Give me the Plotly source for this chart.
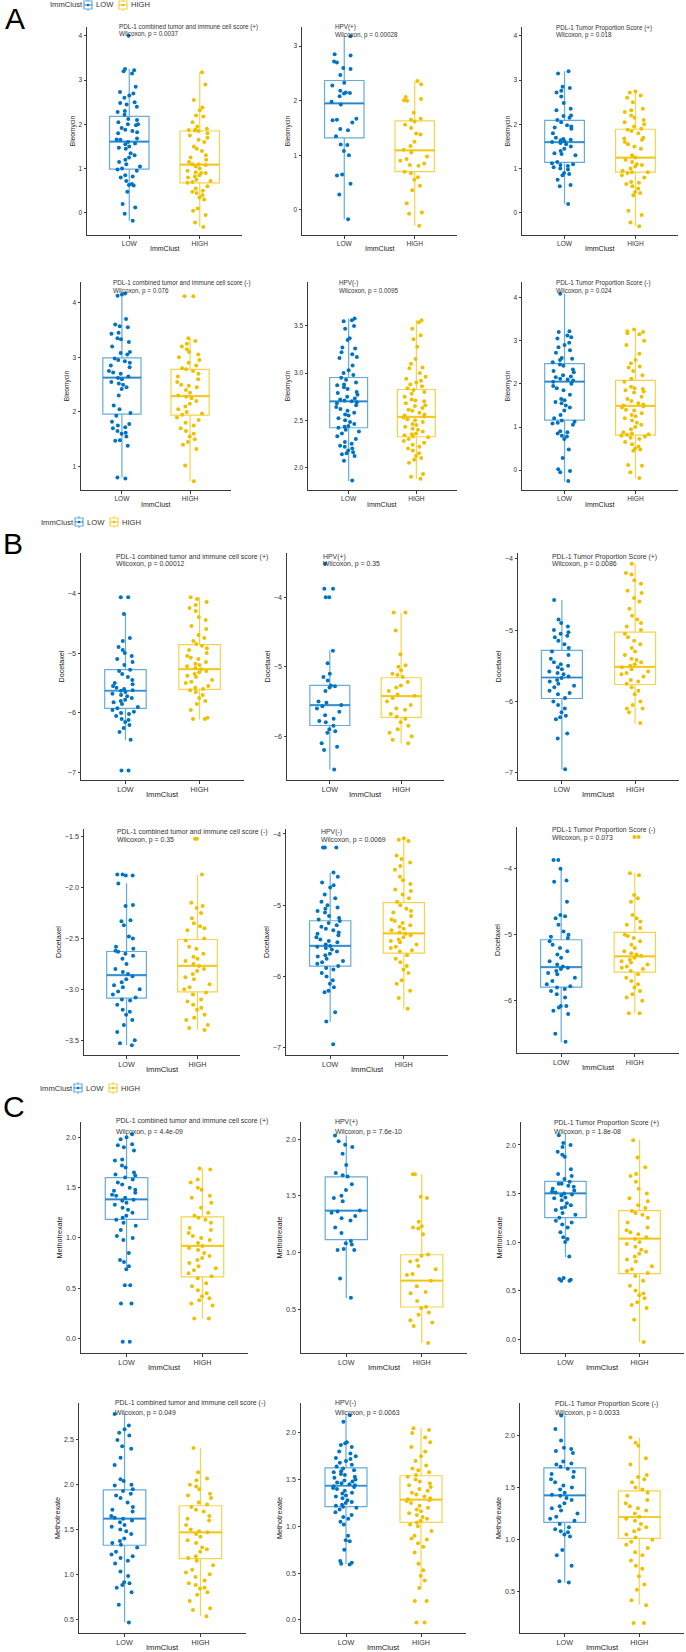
import plotly.graph_objects as go

W, H = 686, 1652
FONT = "Liberation Sans, Arial, sans-serif"
BLUE, GOLD = "#0073C2", "#EFC000"
BLUE_LINE, GOLD_LINE = "rgba(0,115,194,0.6)", "rgba(239,192,0,0.7)"

groups = ["LOW", "HIGH"]
drugs = ["Bleomycin", "Docetaxel", "Methotrexate"]
subsets = ["PDL-1 combined tumor and immune cell score (+)", "HPV(+)", "PDL-1 Tumor Proportion Score (+)",
           "PDL-1 combined tumor and immune cell score (-)", "HPV(-)", "PDL-1 Tumor Proportion Score (-)"]
p_A = ["0.0037", "0.00028", "0.018", "0.076", "0.0095", "0.024"]
p_B = ["0.00012", "0.35", "0.0086", "0.35", "0.0069", "0.073"]
p_C = ["4.4e-09", "7.6e-10", "1.8e-08", "0.049", "0.0063", "0.0033"]

# box statistics: [q1, median, q3, lower whisker, upper whisker]
A_stats_low = [[0.99, 1.61, 2.18, -0.18, 3.25], [1.32, 1.95, 2.37, -0.17, 3.18], [1.14, 1.60, 2.09, 0.195, 3.2],
               [1.96, 2.63, 2.99, 0.80, 4.17], [2.42, 2.70, 2.953, 1.855, 3.58], [1.16, 2.05, 2.47, -0.27, 4.09]]
A_stats_high = [[0.68, 1.09, 1.85, -0.32, 3.18], [0.70, 1.09, 1.63, -0.29, 2.36], [0.92, 1.25, 1.89, -0.3, 2.74],
                [1.94, 2.29, 2.78, 0.73, 3.35], [2.325, 2.536, 2.826, 1.876, 3.56], [0.81, 1.49, 2.08, -0.19, 3.28]]
B_stats_low = [[-5.924, -5.63, -5.277, -6.454, -4.335], [-5.846, -5.553, -5.27, -6.48, -4.765], [-5.958, -5.664, -5.285, -6.953, -4.58],
               [-3.087, -2.861, -2.628, -3.546, -1.956], [-5.853, -5.568, -5.217, -6.634, -4.543], [-5.793, -5.49, -5.076, -6.626, -4.0]]
B_stats_high = [[-5.606, -5.27, -4.86, -6.108, -4.067], [-5.73, -5.423, -5.159, -6.106, -4.22], [-5.762, -5.514, -5.028, -6.308, -4.065],
                [-3.025, -2.769, -2.51, -3.398, -1.874], [-5.671, -5.394, -4.964, -6.45, -4.06], [-5.566, -5.328, -4.965, -6.187, -4.066]]
C_stats_low = [[1.185, 1.384, 1.599, 0.685, 2.036], [1.112, 1.368, 1.665, 0.597, 2.03], [1.251, 1.502, 1.625, 0.845, 2.117],
               [1.324, 1.621, 1.943, 0.463, 2.793], [1.21, 1.434, 1.626, 0.594, 2.19], [1.166, 1.424, 1.688, 0.589, 2.19]]
C_stats_high = [[0.613, 0.921, 1.209, 0.199, 1.689], [0.518, 0.75, 0.979, 0.2, 1.69], [0.674, 1.034, 1.323, -0.03, 2.055],
                [1.175, 1.468, 1.765, 0.53, 2.411], [1.043, 1.285, 1.541, 0.338, 2.053], [1.013, 1.217, 1.468, 0.376, 1.98]]

# sample points (Bleomycin)
A1_low = [3.25,3.22,3.2,3.15,2.85,2.73,2.7,2.65,2.6,2.5,2.48,2.45,2.4,2.3,2.28,2.22,2.12,2.1,2.05,2.0,2.0,1.98,1.92,1.88,1.85,1.82,1.8,1.68,1.66,1.65,1.6,1.57,1.55,1.5,1.47,1.45,1.35,1.3,1.25,1.2,1.15,1.1,1.05,1.0,0.98,0.95,0.85,0.82,0.8,0.72,0.65,0.63,0.62,0.48,0.2,0.12,-0.02,-0.18,4.0]
A1_high = [3.18,2.9,2.55,2.38,2.32,2.2,2.18,2.05,1.95,1.9,1.88,1.87,1.86,1.85,1.8,1.75,1.7,1.65,1.6,1.5,1.45,1.4,1.3,1.25,1.2,1.15,1.1,1.1,1.08,1.05,1.0,0.95,0.92,0.9,0.9,0.85,0.82,0.8,0.75,0.72,0.7,0.68,0.6,0.55,0.5,0.48,0.45,0.4,0.35,0.3,0.1,0.05,-0.05,-0.22,-0.32]
A2_low = [3.18,2.85,2.83,2.72,2.7,2.6,2.58,2.47,2.33,2.28,2.18,2.15,2.14,2.13,2.08,1.98,1.93,1.67,1.65,1.64,1.6,1.48,1.46,1.35,1.2,1.19,1.08,1.0,0.65,0.63,0.48,0.28,-0.17]
A2_high = [2.36,2.3,2.07,2.03,2.01,2.0,1.78,1.67,1.65,1.62,1.56,1.5,1.4,1.38,1.25,1.17,1.1,1.05,0.98,0.93,0.9,0.85,0.82,0.81,0.7,0.67,0.6,0.55,0.44,0.36,0.12,-0.05,-0.07,-0.29]
A3_low = [3.2,3.15,2.85,2.82,2.76,2.72,2.63,2.48,2.35,2.32,2.2,2.19,2.15,2.1,2.05,1.98,1.95,1.93,1.9,1.8,1.7,1.67,1.65,1.64,1.62,1.6,1.58,1.55,1.5,1.45,1.4,1.35,1.33,1.3,1.15,1.12,1.1,1.08,1.06,1.03,1.0,0.98,0.9,0.88,0.85,0.75,0.63,0.6,0.2]
A3_high = [2.74,2.72,2.65,2.6,2.5,2.35,2.32,2.28,2.2,2.15,2.1,2.05,2.0,1.95,1.9,1.88,1.85,1.8,1.7,1.68,1.65,1.6,1.55,1.5,1.45,1.3,1.25,1.2,1.15,1.1,1.08,1.05,1.0,0.95,0.92,0.92,0.9,0.85,0.8,0.7,0.68,0.65,0.6,0.55,0.47,0.45,0.4,0.05,-0.05,-0.22,-0.3]
A4_low = [4.17,4.15,4.13,3.7,3.6,3.57,3.55,3.45,3.43,3.35,3.33,3.28,3.2,3.1,3.08,3.05,2.98,2.95,2.93,2.9,2.85,2.82,2.75,2.72,2.7,2.65,2.62,2.6,2.55,2.52,2.5,2.45,2.42,2.3,2.12,2.05,1.98,1.93,1.82,1.78,1.75,1.72,1.7,1.65,1.62,1.6,1.55,1.48,1.47,1.38,0.8,0.78]
A4_high = [4.12,4.12,3.35,3.3,3.25,3.2,3.15,3.1,3.05,3.0,2.95,2.9,2.85,2.8,2.78,2.75,2.7,2.65,2.6,2.55,2.5,2.48,2.45,2.4,2.35,2.3,2.28,2.25,2.2,2.15,2.1,2.05,2.0,1.97,1.95,1.9,1.85,1.8,1.75,1.7,1.65,1.6,1.55,1.5,1.45,1.4,1.32,1.02,0.73]
A5_low = [3.58,3.56,3.55,3.5,3.47,3.37,3.35,3.27,3.26,3.22,3.2,3.17,3.16,3.08,3.03,3.0,2.98,2.95,2.93,2.9,2.88,2.87,2.85,2.83,2.8,2.79,2.77,2.75,2.73,2.72,2.71,2.7,2.69,2.68,2.66,2.64,2.62,2.6,2.58,2.56,2.55,2.52,2.5,2.48,2.46,2.44,2.43,2.42,2.4,2.38,2.36,2.33,2.3,2.27,2.25,2.23,2.22,2.2,2.18,2.16,2.15,2.14,2.12,2.07,1.86]
A5_high = [3.56,3.54,3.47,3.4,3.36,3.28,3.15,3.1,3.06,3.05,3.0,2.96,2.94,2.92,2.9,2.88,2.86,2.84,2.82,2.8,2.78,2.75,2.72,2.71,2.7,2.68,2.66,2.65,2.63,2.61,2.6,2.58,2.56,2.55,2.54,2.53,2.51,2.5,2.48,2.46,2.45,2.43,2.41,2.4,2.38,2.36,2.35,2.34,2.33,2.32,2.3,2.28,2.26,2.24,2.22,2.2,2.18,2.15,2.12,2.1,2.08,2.05,1.93,1.9,1.88]
A6_low = [4.09,3.22,3.2,3.12,3.08,3.05,2.95,2.9,2.85,2.78,2.72,2.6,2.58,2.55,2.5,2.45,2.42,2.33,2.3,2.27,2.2,2.17,2.15,2.12,2.1,2.08,2.05,2.0,1.95,1.9,1.85,1.75,1.65,1.62,1.58,1.55,1.5,1.45,1.38,1.28,1.2,1.15,1.12,1.1,1.08,1.05,0.9,0.88,0.85,0.8,0.78,0.72,0.48,0.28,0.02,-0.02,-0.05,-0.25]
A6_high = [3.26,3.22,3.2,3.17,3.15,3.0,2.9,2.7,2.55,2.48,2.4,2.38,2.3,2.2,2.12,2.05,1.93,1.9,1.88,1.85,1.82,1.8,1.7,1.65,1.6,1.55,1.52,1.5,1.48,1.45,1.4,1.38,1.32,1.28,1.25,1.2,1.15,1.1,1.05,1.0,0.95,0.88,0.85,0.83,0.82,0.8,0.78,0.75,0.72,0.65,0.6,0.55,0.5,0.48,0.45,0.12,0.1,-0.05,-0.18]

# sample points (Docetaxel)
B1_low = [-4.07,-4.07,-4.35,-4.75,-4.8,-4.9,-4.95,-5.0,-5.05,-5.1,-5.15,-5.2,-5.28,-5.3,-5.35,-5.4,-5.45,-5.5,-5.52,-5.55,-5.58,-5.6,-5.62,-5.63,-5.65,-5.68,-5.7,-5.72,-5.75,-5.78,-5.8,-5.82,-5.85,-5.9,-5.92,-5.95,-5.98,-6.0,-6.02,-6.05,-6.1,-6.12,-6.15,-6.2,-6.25,-6.32,-6.45,-6.96,-6.96]
B1_high = [-4.07,-4.1,-4.15,-4.2,-4.25,-4.3,-4.4,-4.45,-4.55,-4.6,-4.7,-4.75,-4.8,-4.85,-4.88,-4.92,-4.95,-5.0,-5.05,-5.08,-5.1,-5.15,-5.18,-5.2,-5.22,-5.25,-5.27,-5.3,-5.32,-5.35,-5.38,-5.4,-5.45,-5.48,-5.5,-5.55,-5.58,-5.6,-5.62,-5.65,-5.7,-5.75,-5.8,-5.85,-5.95,-6.08,-6.1,-6.1]
B2_low = [-3.52,-3.88,-3.88,-4.0,-4.0,-4.77,-4.95,-5.1,-5.15,-5.2,-5.27,-5.28,-5.3,-5.35,-5.5,-5.52,-5.55,-5.57,-5.6,-5.65,-5.7,-5.75,-5.78,-5.8,-5.85,-5.9,-5.93,-5.95,-6.1,-6.15,-6.2,-6.48]
B2_high = [-4.22,-4.22,-4.48,-4.82,-4.98,-5.0,-5.05,-5.1,-5.12,-5.15,-5.22,-5.27,-5.3,-5.35,-5.4,-5.42,-5.45,-5.5,-5.55,-5.6,-5.62,-5.68,-5.72,-5.75,-5.8,-5.85,-5.9,-5.95,-6.0,-6.05,-6.1]
B3_low = [-4.58,-4.85,-4.9,-4.95,-5.0,-5.03,-5.05,-5.08,-5.1,-5.15,-5.2,-5.25,-5.3,-5.35,-5.4,-5.45,-5.48,-5.5,-5.52,-5.55,-5.58,-5.6,-5.62,-5.65,-5.67,-5.7,-5.72,-5.75,-5.78,-5.8,-5.85,-5.88,-5.9,-5.95,-6.0,-6.05,-6.1,-6.15,-6.2,-6.22,-6.25,-6.45,-6.52,-6.95]
B3_high = [-4.07,-4.2,-4.22,-4.3,-4.35,-4.45,-4.48,-4.55,-4.6,-4.7,-4.8,-4.85,-4.9,-4.95,-5.0,-5.05,-5.1,-5.15,-5.2,-5.25,-5.3,-5.35,-5.4,-5.42,-5.45,-5.48,-5.5,-5.52,-5.55,-5.58,-5.6,-5.62,-5.65,-5.7,-5.72,-5.75,-5.8,-5.85,-5.9,-6.0,-6.05,-6.1,-6.1,-6.15,-6.3]
B4_low = [-1.87,-1.87,-1.88,-1.88,-1.96,-2.17,-2.18,-2.32,-2.33,-2.37,-2.48,-2.5,-2.58,-2.6,-2.62,-2.63,-2.65,-2.67,-2.7,-2.75,-2.8,-2.83,-2.85,-2.87,-2.9,-2.93,-2.96,-2.98,-3.0,-3.02,-3.05,-3.08,-3.1,-3.11,-3.15,-3.2,-3.22,-3.25,-3.3,-3.35,-3.42,-3.5,-3.53,-3.55]
B4_high = [-1.52,-1.52,-1.87,-2.15,-2.18,-2.2,-2.25,-2.3,-2.35,-2.38,-2.4,-2.42,-2.5,-2.52,-2.58,-2.6,-2.65,-2.68,-2.7,-2.72,-2.75,-2.77,-2.8,-2.82,-2.85,-2.88,-2.9,-2.95,-2.98,-3.0,-3.03,-3.05,-3.1,-3.12,-3.15,-3.18,-3.2,-3.25,-3.28,-3.3,-3.35,-3.38,-3.4]
B5_low = [-4.19,-4.19,-4.19,-4.54,-4.6,-4.68,-4.72,-4.75,-4.85,-4.9,-4.95,-5.0,-5.03,-5.05,-5.08,-5.1,-5.15,-5.18,-5.2,-5.22,-5.25,-5.28,-5.3,-5.33,-5.35,-5.38,-5.4,-5.42,-5.45,-5.48,-5.5,-5.52,-5.55,-5.57,-5.58,-5.6,-5.62,-5.65,-5.68,-5.7,-5.72,-5.75,-5.78,-5.8,-5.82,-5.85,-5.88,-5.9,-5.95,-6.0,-6.05,-6.1,-6.15,-6.2,-6.22,-6.5,-6.63,-6.95]
B5_high = [-4.06,-4.08,-4.1,-4.3,-4.35,-4.4,-4.45,-4.5,-4.6,-4.65,-4.7,-4.78,-4.8,-4.85,-4.9,-4.95,-5.0,-5.05,-5.08,-5.1,-5.15,-5.2,-5.22,-5.25,-5.28,-5.3,-5.33,-5.35,-5.38,-5.4,-5.42,-5.45,-5.48,-5.5,-5.52,-5.55,-5.58,-5.6,-5.63,-5.65,-5.7,-5.75,-5.8,-5.85,-5.9,-5.95,-6.05,-6.1,-6.2,-6.3,-6.45]
B6_low = [-3.87,-3.87,-4.0,-4.18,-4.2,-4.5,-4.7,-4.72,-4.75,-4.85,-4.95,-5.0,-5.03,-5.05,-5.1,-5.15,-5.2,-5.25,-5.3,-5.35,-5.4,-5.45,-5.48,-5.5,-5.52,-5.55,-5.58,-5.6,-5.65,-5.7,-5.75,-5.78,-5.8,-5.82,-5.85,-5.9,-5.95,-6.08,-6.08,-6.1,-6.15,-6.2,-6.5,-6.62]
B6_high = [-3.52,-3.52,-4.07,-4.1,-4.4,-4.45,-4.5,-4.7,-4.75,-4.8,-4.85,-4.9,-5.0,-5.02,-5.05,-5.1,-5.15,-5.2,-5.25,-5.28,-5.3,-5.32,-5.35,-5.38,-5.4,-5.42,-5.45,-5.48,-5.5,-5.52,-5.55,-5.6,-5.65,-5.7,-5.75,-5.8,-5.85,-5.9,-5.95,-6.0,-6.19,-6.19]

# sample points (Methotrexate)
C1_low = [2.03,2.0,1.98,1.93,1.92,1.9,1.87,1.78,1.77,1.72,1.7,1.65,1.63,1.62,1.6,1.58,1.55,1.53,1.5,1.48,1.47,1.45,1.43,1.42,1.4,1.38,1.37,1.35,1.33,1.3,1.28,1.25,1.22,1.2,1.18,1.15,1.12,1.08,1.02,1.0,0.98,0.85,0.78,0.76,0.72,0.69,0.53,0.53,0.35,0.35,-0.03,-0.03]
C1_high = [1.69,1.68,1.58,1.55,1.5,1.48,1.42,1.4,1.35,1.3,1.25,1.22,1.2,1.18,1.15,1.1,1.08,1.05,1.02,1.0,0.98,0.95,0.92,0.9,0.88,0.85,0.82,0.8,0.78,0.75,0.72,0.7,0.68,0.65,0.62,0.6,0.55,0.52,0.48,0.45,0.42,0.4,0.38,0.35,0.33,0.2,0.2]
C2_low = [2.03,1.98,1.95,1.93,1.87,1.77,1.7,1.68,1.67,1.6,1.55,1.5,1.48,1.45,1.37,1.36,1.35,1.32,1.3,1.28,1.22,1.17,1.1,1.08,1.07,1.03,1.02,1.02,0.77,0.6]
C2_high = [1.69,1.69,1.49,1.48,1.27,1.23,1.22,1.21,1.16,0.98,0.97,0.93,0.92,0.88,0.85,0.81,0.8,0.75,0.7,0.65,0.64,0.57,0.52,0.51,0.47,0.45,0.4,0.38,0.35,0.2]
C3_low = [2.1,2.02,2.0,1.98,1.93,1.9,1.88,1.75,1.7,1.68,1.65,1.62,1.6,1.6,1.58,1.57,1.55,1.53,1.52,1.51,1.5,1.49,1.48,1.46,1.45,1.43,1.4,1.38,1.36,1.35,1.33,1.3,1.28,1.25,1.22,1.2,1.18,1.15,1.1,1.05,1.03,1.0,0.85,0.63,0.62,0.61,0.6,0.6]
C3_high = [2.05,1.87,1.77,1.7,1.68,1.62,1.55,1.5,1.45,1.42,1.38,1.35,1.32,1.3,1.28,1.25,1.2,1.15,1.12,1.1,1.08,1.05,1.03,1.0,0.98,0.95,0.92,0.9,0.88,0.85,0.82,0.8,0.75,0.72,0.7,0.68,0.65,0.6,0.55,0.5,0.47,0.45,0.42,0.38,0.35,0.32,0.2,-0.03]
C4_low = [2.79,2.66,2.62,2.58,2.55,2.5,2.43,2.4,2.3,2.22,2.06,2.04,2.0,1.99,1.95,1.93,1.9,1.88,1.85,1.8,1.75,1.72,1.7,1.65,1.63,1.62,1.6,1.58,1.55,1.53,1.5,1.48,1.45,1.4,1.37,1.35,1.33,1.3,1.25,1.22,1.2,1.18,1.15,1.12,1.03,0.98,0.91,0.9,0.88,0.85,0.8,0.66,0.46]
C4_high = [2.41,2.14,2.07,2.05,2.0,1.98,1.95,1.9,1.88,1.85,1.8,1.78,1.75,1.72,1.7,1.65,1.62,1.6,1.55,1.5,1.48,1.47,1.45,1.42,1.38,1.35,1.3,1.28,1.25,1.2,1.18,1.15,1.1,1.05,1.02,1.0,0.97,0.93,0.9,0.88,0.85,0.84,0.8,0.77,0.7,0.62,0.6,0.53]
C5_low = [2.19,2.12,1.9,1.89,1.87,1.85,1.8,1.78,1.75,1.73,1.72,1.7,1.68,1.66,1.64,1.62,1.6,1.59,1.58,1.56,1.55,1.53,1.52,1.5,1.49,1.48,1.47,1.46,1.45,1.44,1.43,1.42,1.41,1.4,1.38,1.36,1.35,1.33,1.32,1.3,1.28,1.26,1.25,1.23,1.22,1.21,1.2,1.18,1.15,1.12,1.1,1.08,1.05,1.02,0.9,0.85,0.84,0.75,0.63,0.61,0.6,0.59]
C5_high = [2.05,2.03,2.0,1.95,1.9,1.85,1.8,1.75,1.7,1.65,1.62,1.6,1.58,1.55,1.53,1.5,1.48,1.46,1.44,1.42,1.4,1.38,1.36,1.34,1.32,1.3,1.29,1.28,1.27,1.25,1.22,1.2,1.18,1.16,1.14,1.12,1.1,1.08,1.06,1.04,1.02,1.0,0.95,0.9,0.87,0.86,0.82,0.78,0.72,0.6,0.53,0.47,0.42,0.34,0.2,0.2,-0.03,-0.03]
C6_low = [2.19,2.06,1.95,1.88,1.87,1.85,1.83,1.75,1.73,1.72,1.7,1.68,1.65,1.63,1.6,1.58,1.55,1.52,1.5,1.48,1.45,1.43,1.42,1.4,1.38,1.35,1.32,1.3,1.28,1.25,1.22,1.2,1.18,1.15,1.12,1.1,1.08,1.07,1.05,1.03,0.9,0.85,0.75,0.6,0.59]
C6_high = [1.98,1.93,1.9,1.78,1.72,1.62,1.6,1.58,1.55,1.5,1.48,1.45,1.42,1.38,1.35,1.32,1.3,1.28,1.25,1.22,1.2,1.18,1.15,1.12,1.1,1.08,1.05,1.02,1.0,0.98,0.95,0.92,0.88,0.85,0.8,0.75,0.72,0.65,0.57,0.52,0.42,0.37,0.2,0.2]

# y tick values per panel
A_ticks = [[0, 1, 2, 3, 4], [0, 1, 2, 3], [0, 1, 2, 3, 4], [1, 2, 3, 4], [2.0, 2.5, 3.0, 3.5], [0, 1, 2, 3, 4]]
B_ticks = [[-7, -6, -5, -4], [-6, -5, -4], [-7, -6, -5, -4], [-3.5, -3.0, -2.5, -2.0, -1.5], [-7, -6, -5, -4], [-6, -5, -4]]
C_ticks = [[0.0, 0.5, 1.0, 1.5, 2.0], [0.5, 1.0, 1.5, 2.0], [0.0, 0.5, 1.0, 1.5, 2.0], [0.5, 1.0, 1.5, 2.0, 2.5], [0.0, 0.5, 1.0, 1.5, 2.0], [0.5, 1.0, 1.5, 2.0]]

# ---------------- layout geometry (pixels) ----------------
GEOM = [(87, 242, 27, 235), (302, 457, 27, 235), (522, 678, 27, 235),
        (81, 231, 282, 490), (308, 457, 282, 490), (522, 678, 282, 490),
        (81, 244, 553, 780), (287, 444, 553, 780), (518, 679, 553, 780),
        (84, 240, 829, 1055), (286, 448, 829, 1055), (517, 679, 827, 1053),
        (81, 248, 1122, 1353), (301, 467, 1122, 1353), (521, 684, 1122, 1353),
        (79, 246, 1403, 1633), (301, 466, 1403, 1633), (520, 684, 1403, 1633)]
YRANGE = [(-0.5, 4.2), (-0.46, 3.35), (-0.5, 4.2), (0.57, 4.38), (1.76, 3.966), (-0.46, 4.36),
          (-7.12, -3.33), (-6.63, -3.365), (-7.1, -3.92), (-3.645, -1.424), (-7.1, -3.93), (-6.79, -3.37),
          (-0.143, 2.152), (0.112, 2.15), (-0.144, 2.237), (0.344, 2.912), (-0.142, 2.32), (0.105, 2.31)]
TPOS = [(117, 27, 34), (333, 27, 35), (554, 28, 35),
        (111, 283, 291), (337, 283, 291), (554, 283, 291),
        (113.5, 557, 564), (321, 557, 564), (550, 557, 564),
        (115, 832, 840), (319, 832, 840), (550, 830, 838),
        (113.5, 1121, 1132), (333, 1122, 1132), (552, 1123, 1132),
        (113, 1403, 1413), (333, 1403, 1413), (553, 1404, 1413)]
LETTERS = [("A", 3, 19), ("B", 1, 543), ("C", 1, 1106)]
LEGPOS = [(48, 5), (39, 522), (38, 1088)]
BOXW = 0.56

sections = [
    (drugs[0], p_A, A_stats_low, A_stats_high, A_ticks,
     [A1_low, A2_low, A3_low, A4_low, A5_low, A6_low], [A1_high, A2_high, A3_high, A4_high, A5_high, A6_high]),
    (drugs[1], p_B, B_stats_low, B_stats_high, B_ticks,
     [B1_low, B2_low, B3_low, B4_low, B5_low, B6_low], [B1_high, B2_high, B3_high, B4_high, B5_high, B6_high]),
    (drugs[2], p_C, C_stats_low, C_stats_high, C_ticks,
     [C1_low, C2_low, C3_low, C4_low, C5_low, C6_low], [C1_high, C2_high, C3_high, C4_high, C5_high, C6_high]),
]

fig = go.Figure()
annotations, shapes = [], []
layout = {}
AX = "#3a3a3a"

k = 0
for si, (drug, pvals, st_low, st_high, ticks, pts_low, pts_high) in enumerate(sections):
    fs = 6.3 if si == 0 else 6.9
    for pi in range(6):
        k += 1
        x0, x1, yt, yb = GEOM[k - 1]
        xa = "x" if k == 1 else f"x{k}"
        ya = "y" if k == 1 else f"y{k}"
        for gi, (g, stats, pts, mc, lc) in enumerate([("LOW", st_low[pi], pts_low[pi], BLUE, BLUE_LINE),
                                                        ("HIGH", st_high[pi], pts_high[pi], GOLD, GOLD_LINE)]):
            fig.add_trace(go.Box(
                x=[gi], y=[pts],
                q1=[stats[0]], median=[stats[1]], q3=[stats[2]],
                lowerfence=[stats[3]], upperfence=[stats[4]],
                name=g, legendgroup=g, showlegend=False,
                boxpoints="all", jitter=0.75, pointpos=0, width=BOXW, whiskerwidth=0,
                marker=dict(color=mc, size=4, line=dict(width=0)),
                line=dict(color=lc, width=1.2), fillcolor="rgba(255,255,255,0)",
                xaxis=xa, yaxis=ya, hoverinfo="skip",
            ))
            # thicker median bar, as in ggplot
            fig.add_trace(go.Scatter(
                x=[gi - BOXW / 2, gi + BOXW / 2], y=[stats[1], stats[1]], mode="lines",
                line=dict(color=lc, width=2.2), showlegend=False, hoverinfo="skip",
                xaxis=xa, yaxis=ya,
            ))
        tfmt = ".1f" if any(isinstance(t, float) for t in ticks[pi]) else "d"
        layout["xaxis" if k == 1 else f"xaxis{k}"] = dict(
            domain=[x0 / W, x1 / W], anchor=ya, range=[-0.6, 1.6],
            tickvals=[0, 1], ticktext=groups, showline=True, linecolor=AX, linewidth=1,
            ticks="outside", ticklen=2.5, tickcolor=AX, showgrid=False, zeroline=False,
            tickfont=dict(size=fs + 0.3, color="#333", family=FONT),
        )
        layout["yaxis" if k == 1 else f"yaxis{k}"] = dict(
            domain=[1 - yb / H, 1 - yt / H], anchor=xa, range=list(YRANGE[k - 1]),
            tickvals=ticks[pi], tickformat=tfmt, showline=True, linecolor=AX, linewidth=1,
            ticks="outside", ticklen=2.5, tickcolor=AX, showgrid=False, zeroline=False,
            tickfont=dict(size=fs + 0.3, color="#333", family=FONT),
            title=dict(text=drug, font=dict(size=fs + 0.3, color="#222", family=FONT), standoff=2),
        )
        # x axis title, centred between the two categories
        annotations.append(dict(text="ImmClust", x=(x0 + (x1 - x0) * 1.1 / 2.2) / W,
                                y=1 - (yb + 14) / H, xref="paper", yref="paper", xanchor="center",
                                yanchor="middle", showarrow=False,
                                font=dict(size=fs + 0.7, color="#222", family=FONT)))
        tx, ty, wy = TPOS[k - 1]
        annotations.append(dict(text=subsets[pi], x=tx / W, y=1 - ty / H, xref="paper", yref="paper",
                                xanchor="left", yanchor="middle", showarrow=False,
                                font=dict(size=fs, color="#333", family=FONT)))
        annotations.append(dict(text=f"Wilcoxon, p = {pvals[pi]}", x=tx / W, y=1 - wy / H, xref="paper",
                                yref="paper", xanchor="left", yanchor="middle", showarrow=False,
                                font=dict(size=fs, color="#333", family=FONT)))

for (letter, lx, ly) in LETTERS:
    annotations.append(dict(text=letter, x=lx / W, y=1 - ly / H, xref="paper", yref="paper",
                            xanchor="left", yanchor="middle", showarrow=False,
                            font=dict(size=30, color="#000", family=FONT)))

# legend rows: "ImmClust  [box] LOW  [box] HIGH"
for (lx, ly) in LEGPOS:
    yc = 1 - ly / H
    annotations.append(dict(text="ImmClust", x=lx / W, y=yc, xref="paper", yref="paper", xanchor="left",
                            yanchor="middle", showarrow=False, font=dict(size=7.6, color="#333", family=FONT)))
    for name, off, col, lcol in [("LOW", 36, BLUE, BLUE_LINE), ("HIGH", 71, GOLD, GOLD_LINE)]:
        bx0, bx1 = (lx + off) / W, (lx + off + 8) / W
        bxc = (lx + off + 4) / W
        shapes.append(dict(type="line", xref="paper", yref="paper", x0=bxc, x1=bxc,
                           y0=yc - 6 / H, y1=yc + 6 / H, line=dict(color=lcol, width=1)))
        shapes.append(dict(type="rect", xref="paper", yref="paper", x0=bx0, x1=bx1,
                           y0=yc - 4 / H, y1=yc + 4 / H, line=dict(color=lcol, width=1.2),
                           fillcolor="white"))
        shapes.append(dict(type="line", xref="paper", yref="paper", x0=bx0, x1=bx1,
                           y0=yc, y1=yc, line=dict(color=lcol, width=1.4)))
        shapes.append(dict(type="circle", xref="paper", yref="paper", x0=bxc - 1.3 / W, x1=bxc + 1.3 / W,
                           y0=yc - 1.3 / H, y1=yc + 1.3 / H, line=dict(width=0), fillcolor=col))
        annotations.append(dict(text=name, x=(lx + off + 10) / W, y=yc, xref="paper", yref="paper",
                                xanchor="left", yanchor="middle", showarrow=False,
                                font=dict(size=7.6, color="#333", family=FONT)))

fig.update_layout(
    width=W, height=H, margin=dict(l=0, r=0, t=0, b=0, autoexpand=False),
    paper_bgcolor="white", plot_bgcolor="white", showlegend=False,
    font=dict(family=FONT, size=7, color="#333"),
    annotations=annotations, shapes=shapes, boxmode="overlay", **layout,
)

fig.write_html("out.html", config={"displayModeBar": False},
               post_script="document.body.style.margin='0';document.body.style.overflow='hidden';")
